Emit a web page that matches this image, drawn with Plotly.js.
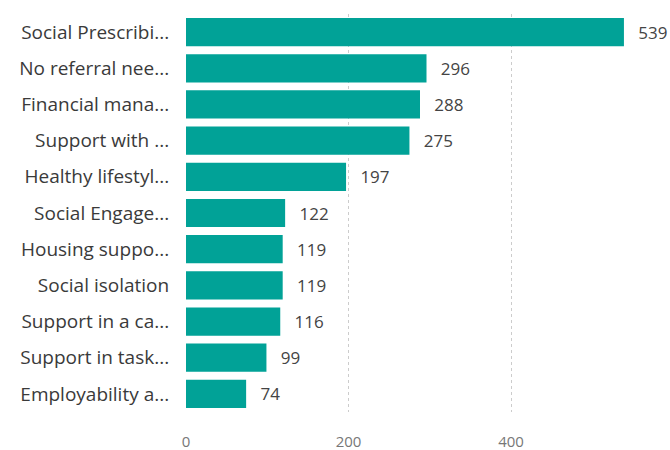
<!DOCTYPE html>
<html>
<head>
<meta charset="utf-8">
<script src="https://cdn.plot.ly/plotly-3.0.1.min.js"></script>
<style>html,body{margin:0;padding:0;background:#fff;}#chart{width:670px;height:450px;}</style>
</head>
<body>
<div id="chart"></div>
<script>
const categories = [
  "Social Prescribi...",
  "No referral nee...",
  "Financial mana...",
  "Support with ...",
  "Healthy lifestyl...",
  "Social Engage...",
  "Housing suppo...",
  "Social isolation",
  "Support in a ca...",
  "Support in task...",
  "Employability a..."
];
const values = [539, 296, 288, 275, 197, 122, 119, 119, 116, 99, 74];
const xTicks = [0, 200, 400];

const trace = {
  type: 'bar',
  orientation: 'h',
  y: categories,
  x: values,
  marker: {color: '#01A297'},
  text: values.map(v => '\u2002\u2009' + v),
  textposition: 'outside',
  cliponaxis: false,
  textfont: {family: 'Open Sans, sans-serif', size: 17, color: '#444'},
  hoverinfo: 'none'
};

const layout = {
  width: 670, height: 450,
  margin: {l: 186, r: 29, t: 14, b: 38},
  paper_bgcolor: '#fff', plot_bgcolor: '#fff',
  showlegend: false,
  bargap: 0.22,
  font: {family: 'Open Sans, sans-serif', size: 15, color: '#444'},
  xaxis: {
    range: [0, 560],
    tickvals: xTicks,
    ticktext: xTicks.map(String),
    showgrid: true,
    gridcolor: '#cccccc',
    griddash: 'dot',
    gridwidth: 1,
    zeroline: false,
    showline: false,
    ticks: 'outside', ticklen: 16, tickcolor: 'rgba(0,0,0,0)',
    tickfont: {size: 15, color: '#777'}
  },
  yaxis: {
    autorange: 'reversed',
    showgrid: false, zeroline: false, showline: false,
    ticks: 'outside', ticklen: 12, tickcolor: 'rgba(0,0,0,0)',
    tickfont: {size: 19, color: '#3a3a3a'}
  }
};

Plotly.newPlot('chart', [trace], layout, {displayModeBar: false, staticPlot: true});
</script>
</body>
</html>
